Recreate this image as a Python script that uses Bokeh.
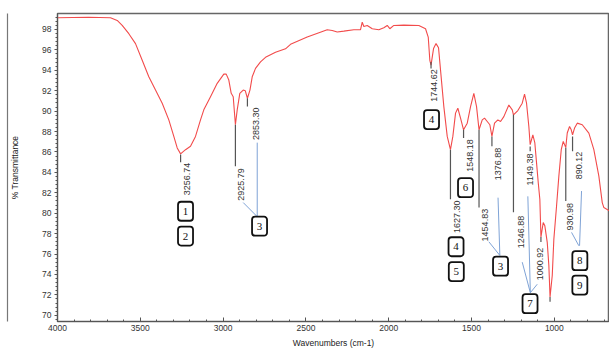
from bokeh.plotting import figure
from bokeh.models import Range1d, FixedTicker, LinearAxis
from bokeh.core.properties import value
from bokeh.embed import file_html
from bokeh.resources import INLINE
import math

# ---- spectrum (wavenumber cm-1, % transmittance) ----
wavenumber = [4000, 3812.8, 3680, 3639.5, 3609.3, 3569.4, 3529, 3488.5, 3448.7, 3408.2,
              3367.8, 3327.9, 3297.7, 3277.2, 3256.7, 3227, 3196.9, 3166.7, 3136.5, 3116.6,
              3076.1, 3035.6, 2995.8, 2981.3, 2965.6, 2951.1, 2939, 2925.8, 2914.9, 2899.2,
              2878.6, 2866, 2853.3, 2838, 2824.3, 2804.4, 2774.2, 2744, 2683.6, 2623.2,
              2593, 2492.2, 2371.4, 2341.2, 2311, 2271.1, 2210.7, 2170.3, 2160, 2150.4,
              2129.8, 2099.6, 2059.8, 2029.6, 2009.1, 1993.4, 1969.2, 1908.8, 1818.3, 1777.8,
              1761.5, 1751.8, 1744.6, 1729.5, 1714.4, 1699.3, 1687.2, 1667.3, 1646.8, 1627.3,
              1612.9, 1596.6, 1582.7, 1566.4, 1548.2, 1526, 1506, 1486.1, 1469.8, 1454.8,
              1435.4, 1421.5, 1405.2, 1389.5, 1376.9, 1361.1, 1341.2, 1324.9, 1305, 1274.8,
              1254.2, 1246.9, 1220.4, 1193.9, 1180, 1167.9, 1154, 1146, 1129.8, 1117.8,
              1107.5, 1097.2, 1087.6, 1081, 1067.1, 1057.4, 1042.9, 1033.2, 1026, 1012.7,
              1003, 986.7, 972.8, 958.4, 946.3, 931, 922.1, 908.2, 898, 890.1,
              878, 861.7, 831.5, 791.7, 761.5, 731.3, 710.8, 701.1, 666.7]
transmittance = [99.14, 99.19, 99.14, 98.88, 98.39, 97.58, 96.61, 94.98, 93.36, 92.06,
                 90.77, 89.14, 87.52, 86.39, 85.81, 86.22, 86.55, 87.52, 89.14, 90.12,
                 91.41, 92.72, 93.62, 93.62, 93.04, 91.74, 91.41, 88.66, 90.12, 91.74,
                 92.06, 91.99, 91.26, 92.06, 93.36, 94.18, 94.82, 95.27, 95.76, 96.10,
                 96.54, 97.25, 97.97, 97.90, 97.74, 97.83, 97.97, 97.97, 98.71, 98.29,
                 98.39, 98.07, 97.97, 98.17, 98.39, 98.07, 98.39, 98.42, 98.39, 98.07,
                 97.25, 94.98, 94.50, 96.12, 96.61, 96.20, 94.01, 90.44, 87.52, 86.22,
                 87.52, 89.80, 90.28, 89.31, 88.17, 88.82, 90.44, 91.74, 90.44, 88.17,
                 89.14, 89.31, 88.98, 88.66, 87.52, 88.82, 89.14, 88.98, 89.46, 90.60,
                 90.12, 89.63, 90.05, 90.77, 91.67, 90.77, 88.49, 86.71, 87.68, 86.88,
                 84.93, 82.98, 81.36, 77.66, 79.09, 78.76, 77.14, 74.87, 71.8, 73.89,
                 77.46, 80.71, 83.63, 86.22, 87.03, 86.42, 87.85, 88.49, 88.17, 87.68,
                 88.34, 88.82, 88.66, 87.85, 86.22, 83.63, 81.04, 80.55, 80.22]

# ---- peak labels ----
peak_text = ["3256.74", "2925.79", "2853.30", "1744.62", "1627.30", "1548.18", "1454.83",
             "1376.88", "1246.88", "1149.38", "1000.92", "930.98", "890.12"]
peak_x = [3256.7, 2925.8, 2853.3, 1744.6, 1627.3, 1548.2, 1454.8, 1376.9, 1246.9, 1146,
          1081, 931, 890.1]
leader_top = [85.74, 88.66, 91.26, 94.82, 86.22, 88.17, 88.17, 87.52, 89.63, 86.54,
              77.66, 86.42, 87.52]
leader_bottom = [84.99, 84.60, 90.44, 94.18, 81.36, 87.36, 80.55, 86.55, 80.09, 86.06,
                 77.17, 81.19, 86.06]
text_x = [3221, 2890.7, 2804.4, 1729.5, 1590.6, 1512.1, 1417.3, 1343, 1204.1, 1145.6,
          1086.4, 905.2, 853.9]
text_t = [83.35, 82.82, 88.75, 92.50, 79.65, 85.64, 78.83, 84.81, 78.15, 84.28,
          75.03, 79.65, 84.67]

# extra leader at the deepest band
deep_x = [1026]
deep_top = [71.8]
deep_bottom = [71.33]

# ---- numbered boxes ----
box_text = ["1", "2", "3", "4", "4", "5", "6", "3", "7", "8", "9"]
box_x = [3227, 3227, 2780, 1741.6, 1593.6, 1592, 1536.3, 1324.9, 1146.8, 846, 846]
box_t = [80.19, 77.76, 78.73, 89.17, 76.71, 74.28, 82.50, 74.81, 71.14, 75.35, 72.96]

# ---- blue connector lines ----
link_x0 = [2878.6, 2794, 1395.5, 1340, 1160, 1193.9, 1103.3, 896.2, 835.8]
link_t0 = [81.04, 86.91, 77.20, 81.52, 81.65, 75.20, 73.04, 78.12, 82.17]
link_x1 = [2798.3, 2794, 1329.1, 1329.1, 1144.9, 1144.9, 1144.9, 852.1, 847.8]
link_t1 = [79.73, 79.70, 75.86, 75.86, 72.21, 72.21, 72.21, 76.81, 76.81]

x_major = [4000, 3500, 3000, 2500, 2000, 1500, 1000]
y_major = list(range(70, 100, 2))

p = figure(width=609, height=350,
           x_range=Range1d(4000, 667), y_range=Range1d(69.39, 99.56),
           output_backend="svg", toolbar_location=None,
           min_border_left=57, min_border_top=13, min_border_right=0, min_border_bottom=27)
p.grid.visible = False
p.outline_line_color = "#666666"
p.outline_line_width = 1.5

ax = p.xaxis[0]
ax.ticker = FixedTicker(ticks=x_major, minor_ticks=list(range(700, 4001, 100)))
ax.axis_label = "Wavenumbers (cm-1)"
for a in (p.xaxis[0], p.yaxis[0]):
    a.axis_label_text_font = "Liberation Sans"
    a.axis_label_text_font_style = "normal"
    a.axis_label_text_font_size = "8.5px"
    a.axis_label_text_color = "#222222"
    a.major_label_text_font = "Liberation Sans"
    a.major_label_text_font_size = "8.5px"
    a.major_label_text_color = "#333333"
    a.axis_line_color = "#555555"
    a.major_tick_line_color = "#555555"
    a.minor_tick_line_color = "#555555"
ax.major_tick_in = 4
ax.major_tick_out = 0
ax.minor_tick_in = 2
ax.minor_tick_out = 0
ax.major_label_standoff = 3
ax.axis_label_standoff = 4

ay = p.yaxis[0]
ay.ticker = FixedTicker(ticks=y_major, minor_ticks=[69.6 + 0.4 * i for i in range(76)])
ay.axis_label = "% Transmittance"
ay.major_tick_in = 0
ay.major_tick_out = 3
ay.minor_tick_in = 0
ay.minor_tick_out = 2
ay.major_label_standoff = 3
ay.axis_label_standoff = 19

# outer frame line of the picture (an empty axis placed outside the real one)
edge = LinearAxis(ticker=FixedTicker(ticks=[]), major_label_text_font_size="0px",
                  axis_line_color="#777777", axis_line_width=1.2,
                  major_tick_out=0, major_tick_in=0, minor_tick_out=0, minor_tick_in=0,
                  major_label_standoff=0)
p.add_layout(edge, "left")

# spectrum
p.line(wavenumber, transmittance, line_color="#f24b4b", line_width=1.1)

# leaders
p.segment(x0=peak_x, y0=leader_top, x1=peak_x, y1=leader_bottom,
          line_color="#555555", line_width=1.2)
p.segment(x0=deep_x, y0=deep_top, x1=deep_x, y1=deep_bottom,
          line_color="#555555", line_width=1.2)
# blue connectors
p.segment(x0=link_x0, y0=link_t0, x1=link_x1, y1=link_t1,
          line_color="#7fa3d6", line_width=1)

# peak texts
p.text(x=text_x, y=text_t, text=peak_text, angle=math.pi / 2,
       text_align="center", text_baseline="middle",
       text_font=value("Liberation Sans"), text_font_size="9px", text_color="#333333")

# numbered boxes
try:
    p.rect(x=box_x, y=box_t, width=15, height=19, width_units="screen", height_units="screen",
           fill_color="white", line_color="#111111", line_width=1.8, border_radius=3)
except Exception:
    p.rect(x=box_x, y=box_t, width=15, height=19, width_units="screen", height_units="screen",
           fill_color="white", line_color="#111111", line_width=1.8)
p.text(x=box_x, y=box_t, text=box_text, text_align="center", text_baseline="middle",
       text_font=value("Liberation Serif"), text_font_size="11px", text_color="#111111")

open("out.html", "w").write(file_html(p, INLINE))
